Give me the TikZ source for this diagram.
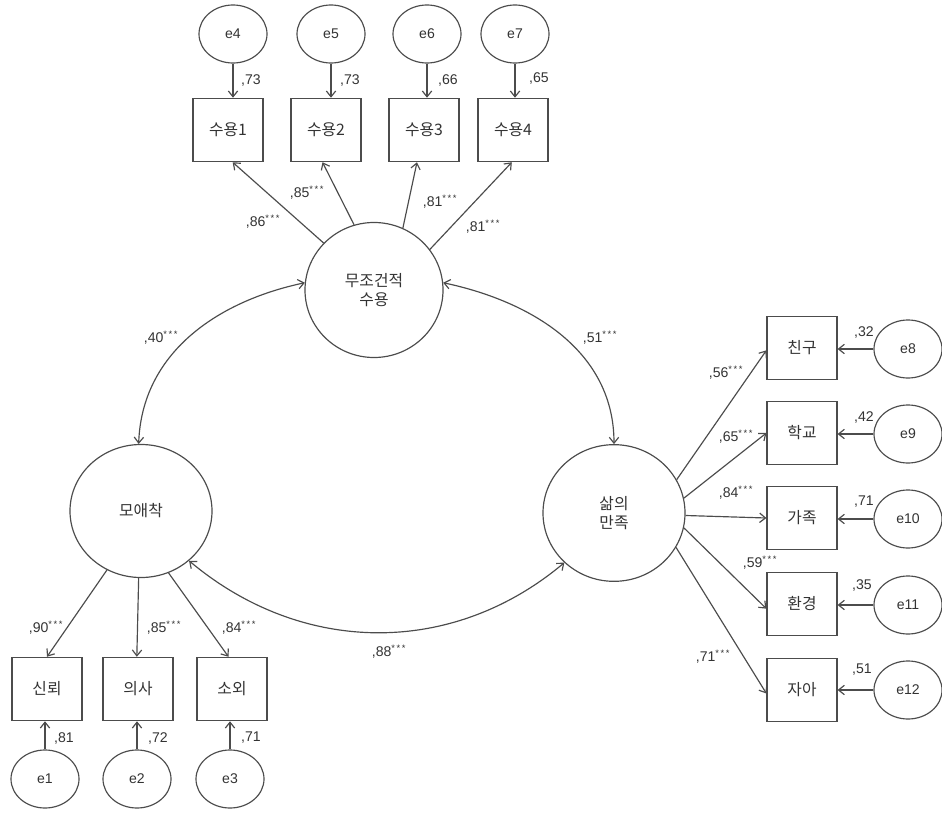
\documentclass[tikz,border=0pt]{standalone}
\usepackage{fontspec}
\setmainfont{Liberation Sans}
\newfontfamily\kr{Noto Sans CJK KR}
\usetikzlibrary{shapes.geometric,arrows.meta}
\begin{document}
\begin{tikzpicture}[x=0.03cm,y=-0.03cm,
 line width=1pt,
 every node/.style={text=black!80},
 lat/.style={ellipse,draw=black!70,inner sep=0pt,align=center,font=\kr\fontsize{13.5}{16}\selectfont},
 obs/.style={rectangle,draw=black!70,minimum width=2.1cm,minimum height=1.9cm,inner sep=0pt,font=\kr\fontsize{13.5}{16}\selectfont},
 err/.style={ellipse,draw=black!70,minimum width=2.04cm,minimum height=1.74cm,inner sep=0pt,font=\fontsize{12}{14}\selectfont},
 lbl/.style={font=\fontsize{12}{14}\selectfont,inner sep=0pt},
 arr/.style={draw=black!70,-{Straight Barb[length=5pt,width=8pt]}},
 dbl/.style={draw=black!70,{Straight Barb[length=5pt,width=8pt]}-{Straight Barb[length=5pt,width=8pt]}}
]
\useasboundingbox (0,0) rectangle (942,813);

% latent variables
\node[lat,minimum width=4.14cm,minimum height=4.05cm] (F) at (374,290) {무조건적\\수용};
\node[lat,minimum width=4.26cm,minimum height=3.99cm] (M) at (141,511) {모애착};
\node[lat,minimum width=4.26cm,minimum height=4.1cm] (S) at (614,513) {삶의\\만족};

% top indicators
\node[obs] (b1) at (228,130) {수용1};
\node[obs] (b2) at (326,130) {수용2};
\node[obs] (b3) at (424,130) {수용3};
\node[obs] (b4) at (513,130) {수용4};
\node[err] (e4) at (233,34) {e4};
\node[err] (e5) at (331,34) {e5};
\node[err] (e6) at (427,34) {e6};
\node[err] (e7) at (515,34) {e7};

% bottom indicators
\node[obs] (c1) at (47,689) {신뢰};
\node[obs] (c2) at (138,689) {의사};
\node[obs] (c3) at (232,689) {소외};
\node[err] (e1) at (45,779) {e1};
\node[err] (e2) at (137,779) {e2};
\node[err] (e3) at (230,779) {e3};

% right indicators
\node[obs] (d1) at (802,348) {친구};
\node[obs] (d2) at (802,433) {학교};
\node[obs] (d3) at (802,518) {가족};
\node[obs] (d4) at (802,604) {환경};
\node[obs] (d5) at (802,690) {자아};
\node[err] (e8) at (908,349) {e8};
\node[err] (e9) at (908,434) {e9};
\node[err] (e10) at (908,519) {e10};
\node[err] (e11) at (908,605) {e11};
\node[err] (e12) at (908,690) {e12};

% error arrows top
\foreach \e/\b in {e4/b1,e5/b2,e6/b3,e7/b4}
  \draw[arr] (\e.south) -- (\e.south |- \b.north);
% error arrows bottom
\foreach \e/\b in {e1/c1,e2/c2,e3/c3}
  \draw[arr] (\e.north) -- (\e.north |- \b.south);
% error arrows right
\foreach \e/\b in {e8/d1,e9/d2,e10/d3,e11/d4,e12/d5}
  \draw[arr] (\e.west) -- (\b.east |- \e.west);

% loadings top
\draw[arr] (F.137) -- ([xshift=4]b1.south);
\draw[arr] (F.107) -- ([xshift=-3]b2.south);
\draw[arr] (F.65) -- ([xshift=-6]b3.south);
\draw[arr] (F.36) -- ([xshift=-1]b4.south);
% loadings bottom
\draw[arr] (M.240) -- (c1.north);
\draw[arr] (M.268) -- ([xshift=-1]c2.north);
\draw[arr] (M.294) -- ([xshift=-3]c3.north);
% loadings right
\draw[arr] (S.28) -- ([yshift=-2]d1.west);
\draw[arr] (S.12) -- (d2.west);
\draw[arr] (S.-2) -- (d3.west);
\draw[arr] (S.-12) -- ([yshift=-4]d4.west);
\draw[arr] (S.-29) -- ([yshift=-3]d5.west);

% covariances
\draw[dbl] (F.174) to[out=192,in=88] (M.92);
\draw[dbl] (F.6) to[out=-12,in=90] (S.90);
\draw[dbl] (M.-46) to[out=-40,in=220] (S.225);

% labels
\node[lbl] at (251,80) {,73};
\node[lbl] at (350,80) {,73};
\node[lbl] at (448,80) {,66};
\node[lbl] at (539,78) {,65};
\node[lbl] at (263,222) {,86\textsuperscript{*\,*\,*}};
\node[lbl] at (307,193) {,85\textsuperscript{*\,*\,*}};
\node[lbl] at (440,202) {,81\textsuperscript{*\,*\,*}};
\node[lbl] at (483,227) {,81\textsuperscript{*\,*\,*}};
\node[lbl] at (161,338) {,40\textsuperscript{*\,*\,*}};
\node[lbl] at (600,338) {,51\textsuperscript{*\,*\,*}};
\node[lbl] at (389,652) {,88\textsuperscript{*\,*\,*}};
\node[lbl] at (46,628) {,90\textsuperscript{*\,*\,*}};
\node[lbl] at (164,628) {,85\textsuperscript{*\,*\,*}};
\node[lbl] at (239,628) {,84\textsuperscript{*\,*\,*}};
\node[lbl] at (64,738) {,81};
\node[lbl] at (158,738) {,72};
\node[lbl] at (251,738) {,71};
\node[lbl] at (726,373) {,56\textsuperscript{*\,*\,*}};
\node[lbl] at (736,437) {,65\textsuperscript{*\,*\,*}};
\node[lbl] at (736,493) {,84\textsuperscript{*\,*\,*}};
\node[lbl] at (760,563) {,59\textsuperscript{*\,*\,*}};
\node[lbl] at (713,657) {,71\textsuperscript{*\,*\,*}};
\node[lbl] at (864,332) {,32};
\node[lbl] at (864,417) {,42};
\node[lbl] at (864,502) {,71};
\node[lbl] at (862,585) {,35};
\node[lbl] at (862,670) {,51};
\end{tikzpicture}
\end{document}
